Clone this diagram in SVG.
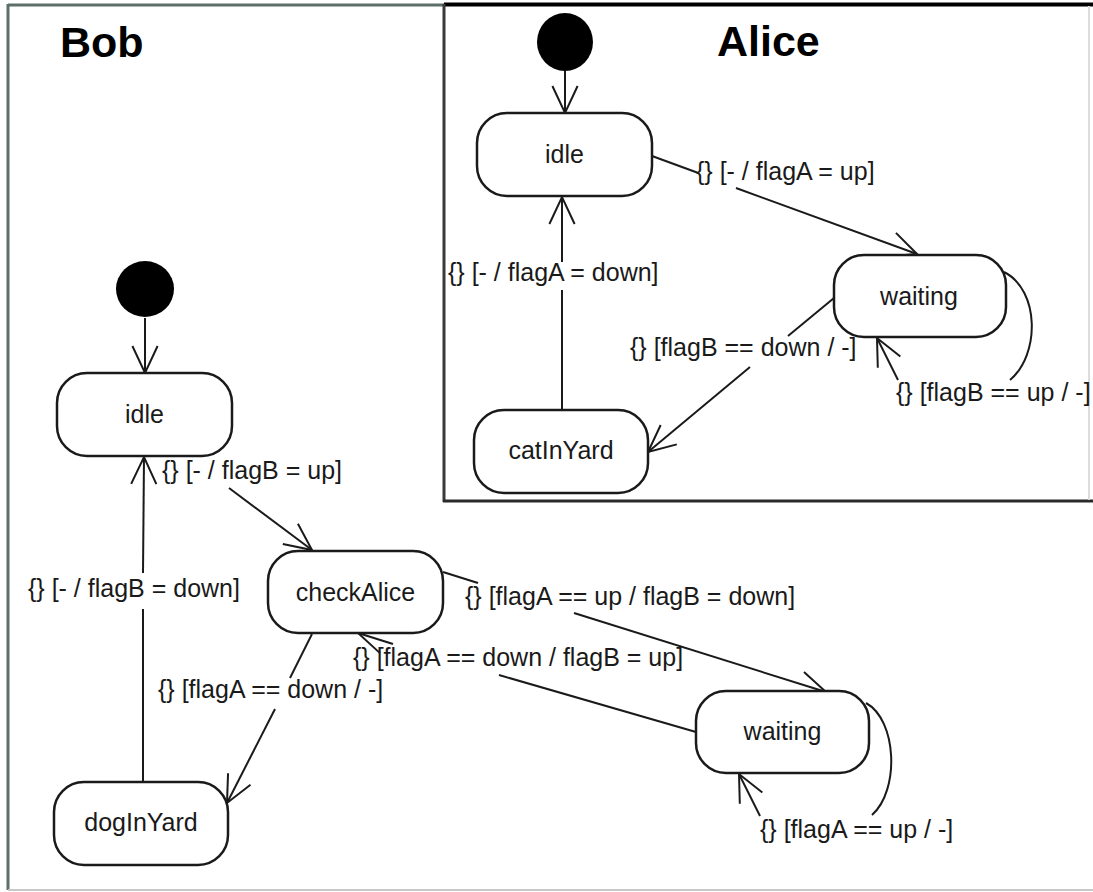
<svg xmlns="http://www.w3.org/2000/svg" width="1093" height="892" viewBox="0 0 1093 892">
<style>
.node{fill:#fff;stroke:#1a1a1a;stroke-width:2.5}
.init{fill:#000}
.t{font-family:"Liberation Sans",Arial,sans-serif;font-size:25px;fill:#1a1a1a;text-anchor:middle}
.lbl{font-family:"Liberation Sans",Arial,sans-serif;font-size:25px;fill:#1a1a1a}
.title{font-family:"Liberation Sans",Arial,sans-serif;font-size:43px;font-weight:bold;fill:#000}
.c{fill:none;stroke:#1a1a1a;stroke-width:2}
.a{fill:none;stroke:#1a1a1a;stroke-width:2;marker-end:url(#arr)}
</style>
<defs>
<marker id="arr" markerUnits="userSpaceOnUse" viewBox="-30 -15 32 30" markerWidth="32" markerHeight="30" refX="0" refY="0" orient="auto" overflow="visible">
<path d="M-27,-12.6 L0,0 L-27,12.6" fill="none" stroke="#1a1a1a" stroke-width="2"/>
</marker>
</defs>
<rect x="0" y="0" width="1093" height="892" fill="#fff"/>
<g id="frames">
<line x1="8" y1="5" x2="446" y2="5" stroke="#5e6e6a" stroke-width="3"/>
<line x1="8" y1="4" x2="8" y2="890" stroke="#5e6e6a" stroke-width="3"/>
<line x1="8" y1="890" x2="1093" y2="890" stroke="#c8c8c8" stroke-width="2"/>
<rect x="444" y="5" width="645" height="496" fill="#fff" stroke="none"/>
<line x1="444" y1="4.5" x2="1093" y2="4.5" stroke="#000" stroke-width="4"/>
<line x1="444" y1="4" x2="444" y2="502" stroke="#3a3a3a" stroke-width="3"/>
<line x1="443" y1="501" x2="1093" y2="501" stroke="#2a2a2a" stroke-width="3"/>
<line x1="1089" y1="6" x2="1089" y2="500" stroke="#dcdcdc" stroke-width="2"/>
<text class="title" x="60" y="57">Bob</text>
<text class="title" x="717" y="56">Alice</text>
</g>
<g id="connectors">
<line class="a" x1="565" y1="71" x2="565" y2="113"/>
<line class="c" x1="652" y1="156" x2="697" y2="172.5"/>
<line class="a" x1="736" y1="188" x2="917" y2="254"/>
<line class="c" x1="562" y1="410" x2="562" y2="290"/>
<line class="a" x1="562" y1="262" x2="562" y2="197"/>
<line class="c" x1="834" y1="298" x2="788" y2="336"/>
<line class="a" x1="750" y1="367" x2="648" y2="452"/>
<path class="c" d="M1004,272 C1040,290 1040,355 1010,380"/>
<line class="a" x1="898" y1="380" x2="877" y2="338"/>
<line class="a" x1="145" y1="318" x2="145" y2="373"/>
<line class="a" x1="229" y1="488" x2="312" y2="550"/>
<line class="c" x1="143" y1="782" x2="143" y2="609"/>
<line class="a" x1="143" y1="573" x2="144" y2="457"/>
<line class="c" x1="312" y1="634" x2="290" y2="678"/>
<line class="a" x1="275" y1="709" x2="227" y2="803"/>
<line class="c" x1="443" y1="572" x2="478" y2="583"/>
<line class="a" x1="574" y1="613" x2="826" y2="692"/>
<line class="c" x1="696" y1="732" x2="499" y2="675"/>
<line class="a" x1="393" y1="644" x2="358" y2="633"/>
<path class="c" d="M866,703 C897,720 900,790 872,815"/>
<line class="a" x1="760" y1="816" x2="739" y2="774"/>
</g>
<g id="labels">
<text class="lbl" x="696" y="180">{} [- / flagA = up]</text>
<text class="lbl" x="448" y="281">{} [- / flagA = down]</text>
<text class="lbl" x="630" y="356">{} [flagB == down / -]</text>
<text class="lbl" x="896" y="401">{} [flagB == up / -]</text>
<text class="lbl" x="162" y="479">{} [- / flagB = up]</text>
<text class="lbl" x="28" y="597">{} [- / flagB = down]</text>
<text class="lbl" x="158" y="698">{} [flagA == down / -]</text>
<text class="lbl" x="465" y="605">{} [flagA == up / flagB = down]</text>
<text class="lbl" x="353" y="666">{} [flagA == down / flagB = up]</text>
<text class="lbl" x="760" y="838">{} [flagA == up / -]</text>
</g>
<g id="alice-initial"><ellipse class="init" cx="565" cy="42" rx="28" ry="29"/></g>
<g id="alice-idle"><rect class="node" x="477" y="113" width="175" height="83" rx="30" ry="30"/><text class="t" x="564.5" y="163">idle</text></g>
<g id="alice-waiting"><rect class="node" x="834" y="255" width="172" height="82" rx="30" ry="30"/><text class="t" x="919" y="305">waiting</text></g>
<g id="alice-catInYard"><rect class="node" x="474" y="410" width="174" height="83" rx="30" ry="30"/><text class="t" x="561" y="459">catInYard</text></g>
<g id="bob-initial"><ellipse class="init" cx="145" cy="289" rx="29" ry="28"/></g>
<g id="bob-idle"><rect class="node" x="57" y="373" width="175" height="83" rx="30" ry="30"/><text class="t" x="144.5" y="423">idle</text></g>
<g id="bob-checkAlice"><rect class="node" x="268" y="551" width="175" height="82" rx="30" ry="30"/><text class="t" x="355.5" y="601">checkAlice</text></g>
<g id="bob-dogInYard"><rect class="node" x="54" y="782" width="174" height="83" rx="30" ry="30"/><text class="t" x="141" y="831">dogInYard</text></g>
<g id="bob-waiting"><rect class="node" x="696" y="691" width="173" height="82" rx="30" ry="30"/><text class="t" x="782.5" y="740">waiting</text></g>
</svg>
